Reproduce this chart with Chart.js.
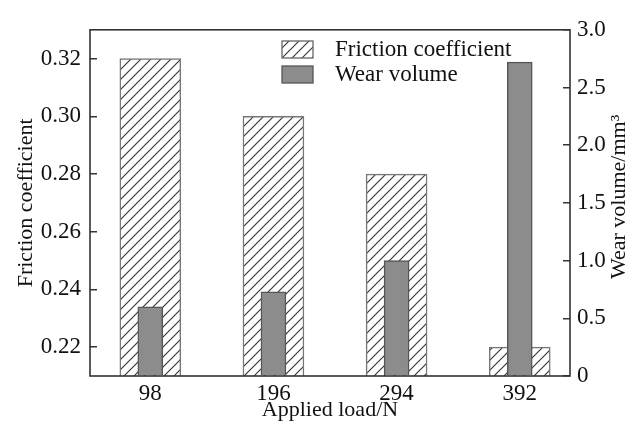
<!DOCTYPE html>
<html>
<head>
<meta charset="utf-8">
<script src="https://cdn.jsdelivr.net/npm/chart.js@4/dist/chart.umd.min.js"></script>
<style>
	html, body { margin: 0; padding: 0; background: #fff; }
	canvas { display: block; }
</style>
</head>
<body>
<canvas id="chart" width="631" height="426"></canvas>
<script>
const loads = [98, 196, 294, 392];
const friction = [0.32, 0.30, 0.28, 0.22];
const wear = [0.60, 0.73, 1.0, 2.72];
const leftTicks = [0.22, 0.24, 0.26, 0.28, 0.30, 0.32];
const rightTicks = [0, 0.5, 1.0, 1.5, 2.0, 2.5, 3.0];

const FONT = '"Liberation Serif", "Times New Roman", serif';
const INK = '#111';

function makeHatch() {
	const c = document.createElement('canvas');
	c.width = 10;
	c.height = 10;
	const g = c.getContext('2d');
	g.fillStyle = '#fff';
	g.fillRect(0, 0, 10, 10);
	g.strokeStyle = '#3a3a3a';
	g.lineWidth = 1.2;
	g.beginPath();
	g.moveTo(-1, 11);
	g.lineTo(11, -1);
	g.moveTo(-6, 6);
	g.lineTo(6, -6);
	g.moveTo(4, 16);
	g.lineTo(16, 4);
	g.stroke();
	return g.createPattern(c, 'repeat');
}

const hatch = makeHatch();

const framePlugin = {
	id: 'frame',
	afterDatasetsDraw(chart) {
		const { ctx, chartArea: a } = chart;
		ctx.save();
		ctx.strokeStyle = '#333';
		ctx.lineWidth = 1.6;
		ctx.strokeRect(a.left, a.top, a.right - a.left, a.bottom - a.top);

		// legend
		const lx = 282, bw = 31, bh = 17;
		const items = [
			{ fill: hatch, stroke: '#666', y: 41, text: 'Friction coefficient' },
			{ fill: '#8c8c8c', stroke: '#555', y: 66, text: 'Wear volume' },
		];
		ctx.font = '23px ' + FONT;
		ctx.textBaseline = 'middle';
		ctx.textAlign = 'left';
		items.forEach((it) => {
			ctx.fillStyle = it.fill;
			ctx.fillRect(lx, it.y, bw, bh);
			ctx.strokeStyle = it.stroke;
			ctx.lineWidth = 1.3;
			ctx.strokeRect(lx, it.y, bw, bh);
			ctx.fillStyle = INK;
			ctx.fillText(it.text, 335, it.y + bh / 2);
		});

		// axis titles
		const cy = (a.top + a.bottom) / 2;
		ctx.font = '22px ' + FONT;
		ctx.textAlign = 'center';
		ctx.fillText('Applied load/N', (a.left + a.right) / 2, 410);

		ctx.save();
		ctx.translate(26, cy);
		ctx.rotate(-Math.PI / 2);
		ctx.fillText('Friction coefficient', 0, 0);
		ctx.restore();

		ctx.save();
		ctx.translate(619, cy - 6);
		ctx.rotate(-Math.PI / 2);
		ctx.fillText('Wear volume/mm\u00B3', 0, 0);
		ctx.restore();

		ctx.restore();
	},
};

const tickFont = { family: FONT, size: 23 };

new Chart(document.getElementById('chart'), {
	type: 'bar',
	data: {
		datasets: [
			{
				label: 'Wear volume',
				data: loads.map((x, i) => ({ x, y: wear[i] })),
				yAxisID: 'y2',
				backgroundColor: '#8c8c8c',
				borderColor: '#555',
				borderWidth: 1.5,
				barThickness: 25,
				grouped: false,
				order: 0,
			},
			{
				label: 'Friction coefficient',
				data: loads.map((x, i) => ({ x, y: friction[i] })),
				yAxisID: 'y',
				base: 0.21,
				backgroundColor: hatch,
				borderColor: '#777',
				borderWidth: 1.5,
				barThickness: 61,
				grouped: false,
				order: 1,
			},
		],
	},
	options: {
		responsive: false,
		animation: false,
		layout: { padding: { top: 23, left: 0, right: 0, bottom: 0 } },
		plugins: {
			legend: { display: false },
			tooltip: { enabled: false },
		},
		scales: {
			x: {
				type: 'linear',
				min: 50,
				max: 432,
				offset: false,
				afterBuildTicks: (s) => { s.ticks = loads.map((v) => ({ value: v })); },
				afterFit: (s) => { s.height = 50; },
				grid: { offset: false, drawOnChartArea: false, tickLength: -7, color: '#333', lineWidth: 1.5 },
				border: { display: false },
				ticks: { font: tickFont, color: INK, padding: 11, callback: (v) => String(v) },
			},
			y: {
				position: 'left',
				min: 0.21,
				max: 0.33,
				afterBuildTicks: (s) => { s.ticks = leftTicks.map((v) => ({ value: v })); },
				afterFit: (s) => { s.width = 90; },
				grid: { drawOnChartArea: false, tickLength: -7, color: '#333', lineWidth: 1.5 },
				border: { display: false },
				ticks: { font: tickFont, color: INK, padding: 16, callback: (v) => v.toFixed(2) },
			},
			y2: {
				position: 'right',
				min: 0,
				max: 3.0,
				afterBuildTicks: (s) => { s.ticks = rightTicks.map((v) => ({ value: v })); },
				afterFit: (s) => { s.width = 61; },
				grid: { drawOnChartArea: false, tickLength: -7, color: '#333', lineWidth: 1.5 },
				border: { display: false },
				ticks: { font: tickFont, color: INK, padding: 14, callback: (v) => (v === 0 ? '0' : v.toFixed(1)) },
			},
		},
	},
	plugins: [framePlugin],
});
</script>
</body>
</html>
